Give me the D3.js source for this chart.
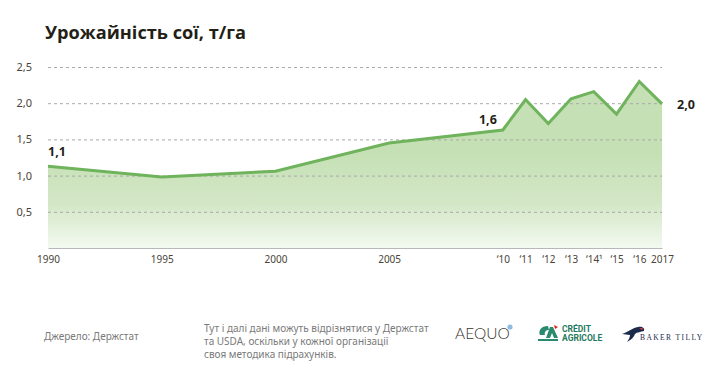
<!DOCTYPE html>
<html>
<head>
<meta charset="utf-8">
<script src="https://cdn.jsdelivr.net/npm/d3@7"></script>
<style>
  body { margin: 0; background: #fff; }
  svg { display: block; }
</style>
</head>
<body>
<div id="chart"></div>
<script>
// soybean yield, t/ha
var years = [1990, 1995, 2000, 2005, 2010, 2011, 2012, 2013, 2014, 2015, 2016, 2017];
var yields = [1.13, 0.98, 1.06, 1.45, 1.63, 2.05, 1.72, 2.06, 2.16, 1.85, 2.30, 1.99];

var tickYears = [1990, 1995, 2000, 2005, 2010, 2011, 2012, 2013, 2014, 2015, 2016, 2017];
var tickLabels = ["1990", "1995", "2000", "2005", "‘10", "‘11", "‘12", "‘13", "‘14¹", "‘15", "‘16", "2017"];
var yTicks = [0.5, 1.0, 1.5, 2.0, 2.5];
var yTickLabels = ["0,5", "1,0", "1,5", "2,0", "2,5"];

// callouts on the line
var calloutYears = [1990, 2010, 2017];
var calloutLabels = ["1,1", "1,6", "2,0"];

var width = 710, height = 372;

var svg = d3.select("#chart").append("svg")
    .attr("width", width)
    .attr("height", height);

var x = d3.scaleLinear().domain([1990, 2017]).range([48, 662]);
var y = d3.scaleLinear().domain([0, 2.5]).range([248, 67]);

var data = years.map(function(d, i) { return {year: d, value: yields[i]}; });

// title
svg.append("text")
    .attr("x", 45)
    .attr("y", 39)
    .attr("font-family", "Open Sans")
    .attr("font-weight", 700)
    .attr("font-size", "18.2px")
    .attr("fill", "#231f16")
    .text("Урожайність сої, т/га");

// gradient for the area
var grad = svg.append("defs").append("linearGradient")
    .attr("id", "fade")
    .attr("gradientUnits", "userSpaceOnUse")
    .attr("x1", 0).attr("y1", 150)
    .attr("x2", 0).attr("y2", 248);
grad.append("stop").attr("offset", "0%").attr("stop-color", "#c5e0b4");
grad.append("stop").attr("offset", "55%").attr("stop-color", "#d3e7c6");
grad.append("stop").attr("offset", "100%").attr("stop-color", "#f3f9f0");

var area = d3.area()
    .x(function(d) { return x(d.year); })
    .y0(y(0))
    .y1(function(d) { return y(d.value); });

svg.append("path")
    .datum(data)
    .attr("d", area)
    .attr("fill", "url(#fade)");

// dashed grid over the area
var yAxis = d3.axisLeft(y)
    .tickValues(yTicks)
    .tickSize(-(x.range()[1] - x.range()[0]))
    .tickPadding(16)
    .tickFormat(function(d, i) { return yTickLabels[i]; });

var gy = svg.append("g")
    .attr("transform", "translate(" + x.range()[0] + ",0)")
    .call(yAxis);
gy.select(".domain").remove();
gy.selectAll(".tick line")
    .attr("stroke", "#a9a9a9")
    .attr("stroke-dasharray", "3,3");
gy.selectAll(".tick text")
    .attr("font-family", "Noto Sans")
    .attr("font-size", "11px")
    .attr("fill", "#4a4438");

// baseline
var xAxis = d3.axisBottom(x)
    .tickValues(tickYears)
    .tickSize(0)
    .tickPadding(8)
    .tickFormat(function(d, i) { return tickLabels[i]; });

var gx = svg.append("g")
    .attr("transform", "translate(0," + y(0) + ")")
    .call(xAxis);
gx.select(".domain").attr("stroke", "#b8b8b8").attr("stroke-width", 1.2);
gx.selectAll(".tick text")
    .attr("font-family", "Noto Sans")
    .attr("font-size", "10px")
    .attr("fill", "#4a4438");

// line
var line = d3.line()
    .x(function(d) { return x(d.year); })
    .y(function(d) { return y(d.value); });

svg.append("path")
    .datum(data)
    .attr("d", line)
    .attr("fill", "none")
    .attr("stroke", "#6fb35c")
    .attr("stroke-width", 3)
    .attr("stroke-linejoin", "miter");

// value callouts
var offsets = [{dx: 0, dy: -10, anchor: "start"}, {dx: -6, dy: -6, anchor: "end"}, {dx: 15, dy: 5, anchor: "start"}];
calloutYears.forEach(function(yr, i) {
  var v = yields[years.indexOf(yr)];
  svg.append("text")
      .attr("x", x(yr) + offsets[i].dx)
      .attr("y", y(v) + offsets[i].dy)
      .attr("text-anchor", offsets[i].anchor)
      .attr("font-family", "Noto Sans")
      .attr("font-weight", 700)
      .attr("font-size", "12.5px")
      .attr("fill", "#231f16")
      .text(calloutLabels[i]);
});

// footer
svg.append("text")
    .attr("x", 44)
    .attr("y", 340)
    .attr("font-family", "Noto Sans")
    .attr("font-size", "10px")
    .attr("fill", "#7a7a7a")
    .text("Джерело: Держстат");

var note = ["Тут і далі дані можуть відрізнятися у Держстат",
            "та USDA, оскільки у кожної організації",
            "своя методика підрахунків."];
svg.append("text")
    .attr("font-family", "Noto Sans")
    .attr("font-size", "10px")
    .attr("fill", "#7a7a7a")
    .selectAll("tspan")
    .data(note)
    .enter().append("tspan")
    .attr("x", 204)
    .attr("y", function(d, i) { return 332 + i * 13; })
    .text(function(d) { return d; });

// logos (rough)
svg.append("text")
    .attr("x", 455)
    .attr("y", 339)
    .attr("font-family", "Lato")
    .attr("font-weight", 300)
    .attr("font-size", "15.5px")
    .attr("fill", "#3a342c")
    .text("AEQUO");
svg.append("circle")
    .attr("cx", 510).attr("cy", 327).attr("r", 2.6)
    .attr("fill", "#8fbbe3");

var ca = svg.append("g").attr("transform", "translate(538,325)");
ca.append("path")
    .attr("d", "M10,1 C3,1 0,6 2,10 L7,10 C6,7 8,5 11,5 Z")
    .attr("fill", "#2a8a6e");
ca.append("path")
    .attr("d", "M12,2 L8,13 L12,13 L14,8 L16,13 L20,13 L15,2 Z")
    .attr("fill", "#2a8a6e");
ca.append("path")
    .attr("d", "M16,0 L20,2 L17,4 Z")
    .attr("fill", "#e2231a");
ca.append("rect").attr("x", 0).attr("y", 14).attr("width", 20).attr("height", 2).attr("fill", "#2a8a6e");
ca.append("text")
    .attr("x", 24).attr("y", 7)
    .attr("font-family", "Roboto").attr("font-weight", 700).attr("font-size", "8.5px")
    .attr("fill", "#1f7a60")
    .text("CRÉDIT");
ca.append("text")
    .attr("x", 24).attr("y", 16)
    .attr("font-family", "Roboto").attr("font-weight", 700).attr("font-size", "8.5px")
    .attr("fill", "#1f7a60")
    .text("AGRICOLE");

var bt = svg.append("g").attr("transform", "translate(622,326)");
bt.append("path")
    .attr("d", "M0,8 C6,6 10,2 16,1 C20,0 23,2 22,5 C19,6 15,6 13,8 C12,11 9,14 5,16 C7,13 8,11 8,9 Z")
    .attr("fill", "#1c2a4c");
bt.append("path")
    .attr("d", "M17,2 L21,2 L20,4 Z")
    .attr("fill", "#d83a3a");
bt.append("text")
    .attr("x", 18).attr("y", 14)
    .attr("font-family", "Liberation Serif").attr("font-size", "7.5px")
    .attr("letter-spacing", "1.4px")
    .attr("fill", "#1c2a4c")
    .text("BAKER TILLY");
</script>
</body>
</html>
